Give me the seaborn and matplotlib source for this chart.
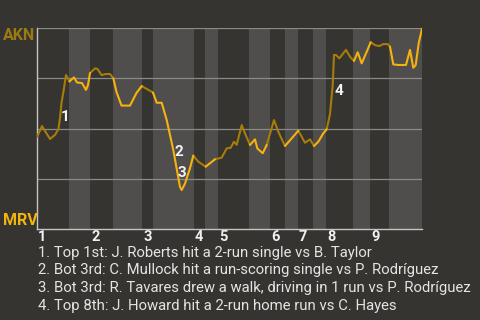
import matplotlib
matplotlib.use("Agg")
import matplotlib.pyplot as plt
import matplotlib.transforms as mtrans
import seaborn as sns
import pandas as pd

# ---- data ----
# game progress (arbitrary units) and AKN win probability
progress = [0, 5, 13, 18, 21.5, 23, 24.5, 27, 29, 32.5, 35, 37, 40, 45, 49, 51, 53, 58, 60.5, 64.5,
            69, 73, 76.3, 79.5, 84.5, 93, 99.5, 104.7, 109.7, 116, 119.7, 124.7, 129.7, 136.3, 143, 144.7,
            148, 153, 156.3, 161.3, 168.7, 178, 184.7, 189.7, 193.7, 197, 199.7, 204.7, 208, 213, 218,
            220.3, 225.7, 229.7, 237, 241.3, 248, 254.7, 261.3, 268, 273, 277, 281.3, 286.3, 289.7, 293,
            295.7, 297, 299, 302.3, 309, 313, 317, 320.7, 324.7, 329.7, 333.7, 338, 342.3, 346.3, 350.7,
            353, 356.3, 361.3, 369, 373, 376.3, 378.7, 381.7, 384.7, 385]
wp_akn = [0.458, 0.512, 0.448, 0.468, 0.498, 0.552, 0.627, 0.701, 0.766, 0.734, 0.746, 0.754, 0.729,
          0.726, 0.692, 0.716, 0.776, 0.799, 0.796, 0.766, 0.771, 0.771, 0.750, 0.682, 0.614, 0.614,
          0.677, 0.711, 0.697, 0.679, 0.628, 0.628, 0.542, 0.393, 0.209, 0.194, 0.226, 0.303, 0.365,
          0.335, 0.310, 0.347, 0.355, 0.401, 0.404, 0.434, 0.419, 0.517, 0.476, 0.418, 0.446, 0.401,
          0.377, 0.418, 0.542, 0.484, 0.413, 0.451, 0.489, 0.429, 0.446, 0.413, 0.434, 0.476, 0.496,
          0.572, 0.716, 0.866, 0.866, 0.849, 0.891, 0.857, 0.836, 0.879, 0.824, 0.882, 0.929, 0.915,
          0.910, 0.920, 0.920, 0.907, 0.819, 0.816, 0.816, 0.891, 0.802, 0.816, 0.924, 0.990, 1.0]

# half-inning boundaries (top 1st, bot 1st, ..., end)
half_edges = [0, 32, 53, 76, 105, 116, 157, 168, 181, 212, 233, 248, 261, 276, 289, 316, 333, 352, 385]
inning_labels = ["1", "2", "3", "4", "5", "6", "7", "8", "9"]

teams = ["AKN", "MRV"]
team_colors = {"AKN": "#a67d08", "MRV": "#f7b20e"}

event_ids = ["1", "2", "3", "4"]
event_x = [28.5, 141.5, 145, 301.5]
event_y = [0.557, 0.383, 0.281, 0.687]
event_notes = [
    "1. Top 1st: J. Roberts hit a 2-run single vs B. Taylor",
    "2. Bot 3rd: C. Mullock hit a run-scoring single vs P. Rodríguez",
    "3. Bot 3rd: R. Tavares drew a walk, driving in 1 run vs P. Rodríguez",
    "4. Top 8th: J. Howard hit a 2-run home run vs C. Hayes",
]

BG = "#363431"
BAND = "#4f4e4c"
GRID = "#8a8a88"
TXT = "#e4e4e4"

sns.set_style("dark")
plt.rcParams["font.family"] = ["Roboto", "DejaVu Sans"]

# ---- build segment table (colour by batting team) ----
def batting(xm):
    for i in range(len(half_edges) - 1):
        if half_edges[i] <= xm < half_edges[i + 1]:
            return "AKN" if i % 2 == 0 else "MRV"
    return "MRV"

rows = []
seg = 0
prev_team = None
for i in range(len(progress) - 1):
    t = batting((progress[i] + progress[i + 1]) / 2)
    if t != prev_team:
        seg += 1
        rows.append(dict(x=progress[i], y=wp_akn[i], team=t, seg=seg))
        prev_team = t
    rows.append(dict(x=progress[i + 1], y=wp_akn[i + 1], team=t, seg=seg))
df = pd.DataFrame(rows)

fig = plt.figure(figsize=(4.8, 3.2), dpi=100, facecolor=BG)
ax = fig.add_axes([37 / 480, 1 - 229 / 320, 385 / 480, 201 / 320])
ax.set_facecolor(BG)

for i in range(1, len(half_edges) - 1, 2):
    ax.axvspan(half_edges[i], half_edges[i + 1], color=BAND, lw=0, zorder=0)

for g in [0.25, 0.5, 0.75, 1.0]:
    ax.axhline(g, color=GRID, lw=0.9, zorder=1)

sns.lineplot(data=df, x="x", y="y", hue="team", units="seg", estimator=None, sort=False,
             palette=team_colors, lw=1.5, legend=False, ax=ax, zorder=3)

ax.set_xlim(half_edges[0], half_edges[-1])
ax.set_ylim(0, 1)
ax.set_xlabel("")
ax.set_ylabel("")
ax.grid(False)
for s in ["top", "right"]:
    ax.spines[s].set_visible(False)
for s in ["left", "bottom"]:
    ax.spines[s].set_visible(True)
    ax.spines[s].set_color("#c4c4c2")
    ax.spines[s].set_linewidth(1.0)
ax.set_yticks([])
ax.set_xticks(half_edges[0:-1:2])
ax.set_xticklabels(inning_labels, fontsize=10.5, fontweight="bold", color="#f0f0f0", ha="left")
ax.tick_params(axis="x", length=0, pad=1.0)
offset = mtrans.ScaledTranslation(1.0 / 100, 0, fig.dpi_scale_trans)
for lab in ax.get_xticklabels():
    lab.set_transform(lab.get_transform() + offset)

for eid, ex, ey in zip(event_ids, event_x, event_y):
    ax.text(ex, ey, eid, color="#f2f2f2", fontsize=11, fontweight="bold",
            ha="center", va="center", zorder=4)

fig.text(2.5 / 480, 1 - 28 / 320, teams[0], color="#9c7a12", fontsize=11.5, fontweight="bold",
         ha="left", va="top")
fig.text(2.5 / 480, 1 - 225 / 320, teams[1], color="#f2b40e", fontsize=11.5, fontweight="bold",
         ha="left", va="baseline")

for k, note in enumerate(event_notes):
    yc = [252.7, 270.3, 288.3, 306][k]
    fig.text(38 / 480, 1 - yc / 320, note, color=TXT, fontsize=10.7, ha="left", va="center")

fig.savefig("out.png", dpi=100, facecolor=BG)
